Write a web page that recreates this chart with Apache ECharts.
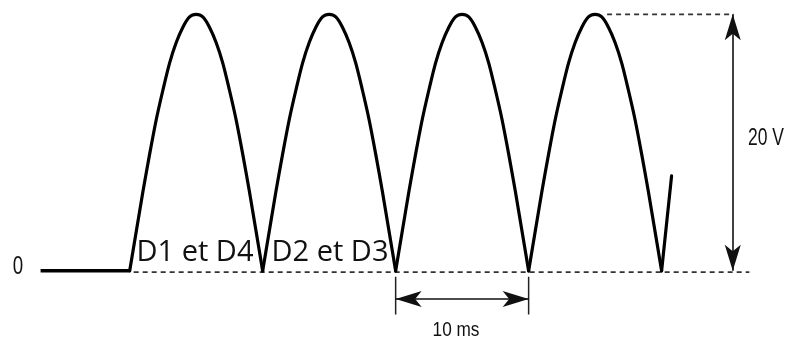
<!DOCTYPE html>
<html>
<head>
<meta charset="utf-8">
<script src="https://cdn.jsdelivr.net/npm/echarts@6/dist/echarts.min.js"></script>
<style>
  html, body { margin: 0; padding: 0; background: #fff; }
  #chart { width: 791px; height: 342px; }
</style>
</head>
<body>
<div id="chart"></div>
<script>
// time in ms, voltage in V
const archTimes = [0, 0.5, 1, 1.5, 2, 2.5, 3, 3.5, 4, 4.5, 5, 5.5, 6, 6.5, 7, 7.5, 8, 8.5, 9, 9.5, 10];
const archVolts = [0, 3.1, 6.2, 9.1, 11.8, 14.1, 16.2, 17.8, 19.0, 19.8, 20,
                   19.8, 19.0, 17.8, 16.2, 14.1, 11.8, 9.1, 6.2, 3.1, 0];
const archStarts = [0, 10, 20, 30];
const leadTimes = [-6.7, 0];
const leadVolts = [0, 0];
const tailTimes = [40, 40.75];
const tailVolts = [0, 7.4];
const peakVolt = 20;
const periodMarks = [20, 30]; // the 10 ms span
const diodeLabels = ["D1 et D4", "D2 et D3"];

let chart = echarts.init(document.getElementById("chart"));

const helv = '"Liberation Sans", Arial, sans-serif';
const curveStyle = { color: "#000", width: 3.2, cap: "round", join: "round" };
const dashStyle = { color: "#333", width: 1.8, type: [5, 4] };

let series = [];
// flat part before the bridge conducts
series.push({
  type: "line",
  data: leadTimes.map((t, i) => [t, leadVolts[i]]),
  symbol: "none",
  lineStyle: { color: "#000", width: 3.5 }
});
// one half wave per 10 ms
archStarts.forEach(start => {
  series.push({
    type: "line",
    data: archTimes.map((t, i) => [start + t, archVolts[i]]),
    symbol: "none",
    smooth: 0.3,
    lineStyle: curveStyle
  });
});
series.push({
  type: "line",
  data: tailTimes.map((t, i) => [t, tailVolts[i]]),
  symbol: "none",
  lineStyle: curveStyle
});
// dashed reference lines
series.push({
  type: "line",
  data: [[0.3, -0.1], [46.6, -0.1]],
  symbol: "none",
  lineStyle: dashStyle,
  z: 1
});
series.push({
  type: "line",
  data: [[35.9, peakVolt], [45.4, peakVolt]],
  symbol: "none",
  lineStyle: dashStyle,
  z: 1
});
// ticks under the 10 ms span
periodMarks.forEach(t => {
  series.push({
    type: "line",
    data: [[t, -0.45], [t, -3.4]],
    symbol: "none",
    lineStyle: { color: "#222", width: 1.5 }
  });
});
// arrows
series.push({
  type: "line",
  data: [],
  markLine: {
    silent: true,
    animation: false,
    symbol: ["arrow", "arrow"],
    symbolSize: [12, 26],
    label: { show: false },
    lineStyle: { color: "#111", width: 1.6, type: "solid" },
    itemStyle: { color: "#000" },
    data: [
      [{ coord: [45.35, 0] }, { coord: [45.35, peakVolt] }],
      [{ coord: [periodMarks[0], -2.2] }, { coord: [periodMarks[1], -2.2] }]
    ]
  }
});

function label(text, x, y, size, sx) {
  return {
    type: "text", x: x, y: y, scaleX: sx,
    style: { text: text, font: size + "px " + helv, fill: "#111", align: "center", verticalAlign: "middle" }
  };
}

chart.setOption({
  animation: false,
  grid: { left: 10, right: 23, top: 1.5, bottom: 7 },
  xAxis: { type: "value", min: -9, max: 48, show: false },
  yAxis: { type: "value", min: -5, max: 21, show: false },
  series: series,
  graphic: [
    label("0", 18, 267, 26, 0.72),
    label("20 V", 766, 139, 23, 0.76),
    label("10 ms", 456, 330, 21, 0.82),
    { type: "text", x: 195, y: 253, style: { text: diodeLabels[0], font: '29px "Open Sans", sans-serif', fill: "#111", align: "center", verticalAlign: "middle" } },
    { type: "text", x: 330, y: 253, style: { text: diodeLabels[1], font: '29px "Open Sans", sans-serif', fill: "#111", align: "center", verticalAlign: "middle" } }
  ]
});
</script>
</body>
</html>
